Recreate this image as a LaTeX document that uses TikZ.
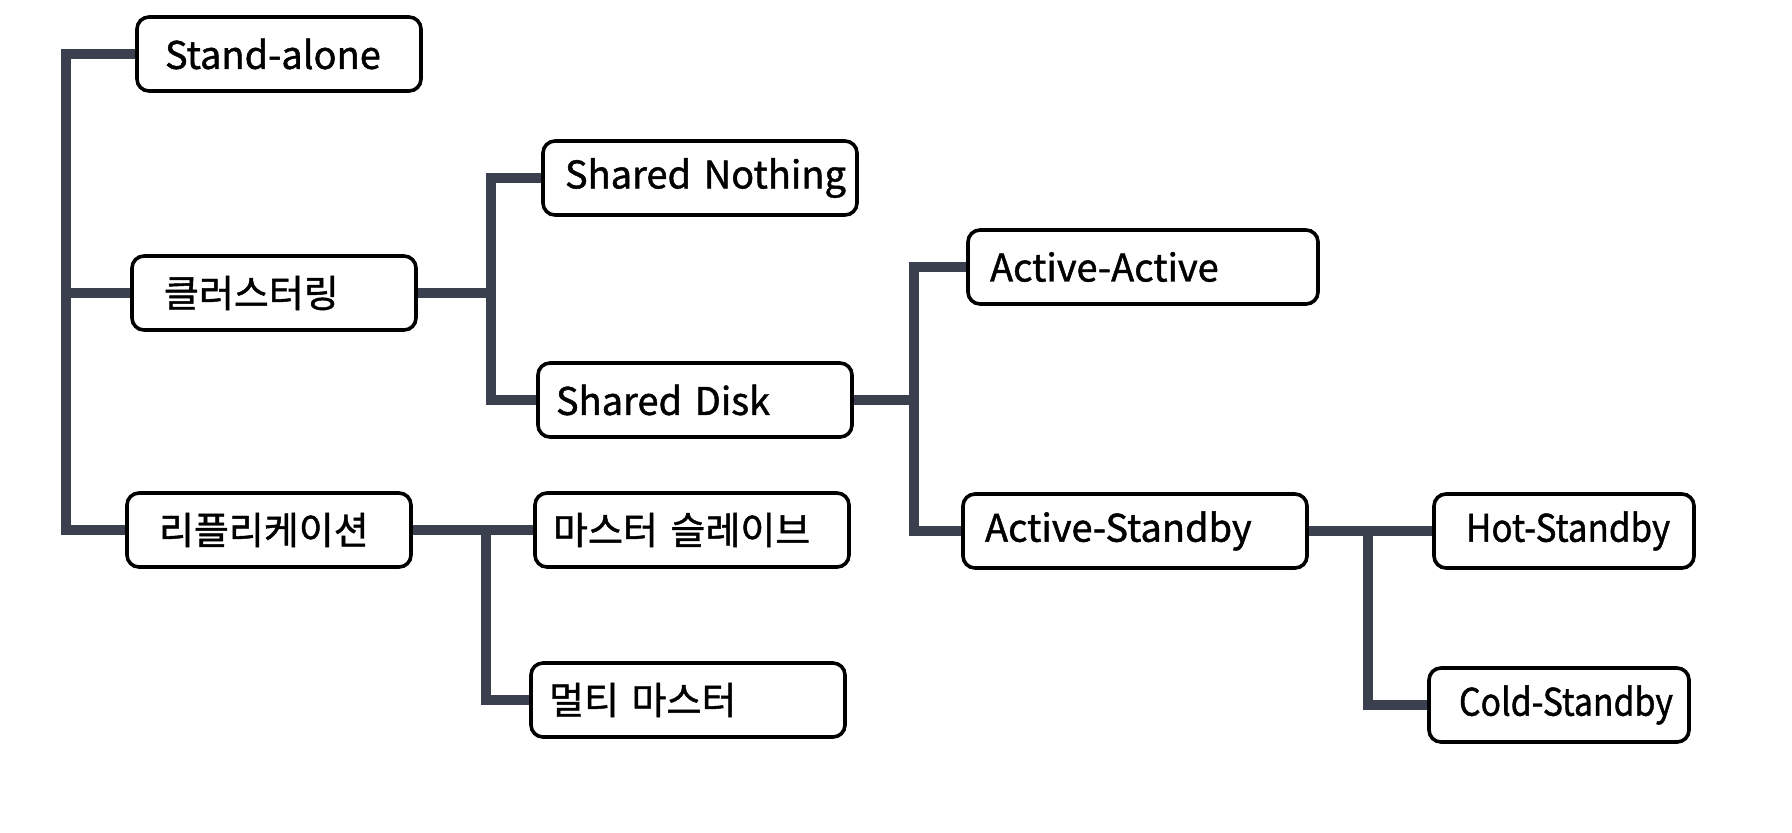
\documentclass[tikz,border=0pt]{standalone}
\usepackage{graphicx}
\usepackage{fontspec}
\setmainfont{Noto Sans CJK KR}[FakeBold=1.2]
\usetikzlibrary{backgrounds}
\definecolor{linkgray}{RGB}{58,64,78}
\newcommand{\boxtext}[2][0pt]{\hspace*{#1}\makebox[0pt][l]{#2}}
\tikzset{
  box/.style={draw, line width=1.8pt, rounded corners=6pt, fill=white,
    minimum height=37pt, inner xsep=9pt, text width=#1, align=left,
    font=\fontsize{19}{22}\selectfont},
  link/.style={draw=linkgray, line width=5pt},
}
\begin{document}
\begin{tikzpicture}[x=0.5pt,y=-0.5pt]
\useasboundingbox (0,0) rectangle (1792,832);

% first level
\node[box=124pt] (sa) at (279,54) {\boxtext[5pt]{Stand-alone}};
\node[box=124pt] (cl) at (274,293) {\boxtext[7pt]{클러스터링}};
\node[box=124pt] (rep) at (269,530) {\boxtext[7pt]{리플리케이션}};

% second level
\node[box=139pt] (sn) at (700,178) {\boxtext[2pt]{Shared Nothing}};
\node[box=139pt] (sd) at (695,400) {\boxtext{Shared Disk}};
\node[box=139pt] (ms) at (692,530) {\boxtext{마스터 슬레이브}};
\node[box=139pt] (mm) at (688,700) {\boxtext{멀티 마스터}};

% third level
\node[box=157pt] (aa) at (1143,267) {\boxtext[2pt]{Active-Active}};
\node[box=154pt] (as) at (1135,531) {\boxtext[2pt]{Active-Standby}};

% fourth level
\node[box=112pt] (hs) at (1564,531) {\boxtext[7pt]{\scalebox{0.92}[1]{Hot-Standby}}};
\node[box=112pt] (cs) at (1559,705) {\boxtext[6pt]{\scalebox{0.89}[1]{Cold-Standby}}};

\coordinate (t1) at (66,293);
\coordinate (t2) at (491,293);
\coordinate (t3) at (486,530);
\coordinate (t4) at (914,400);
\coordinate (t5) at (1368,531);

\begin{scope}[on background layer]
\fill[white] (0,0) rectangle (1792,832);
\draw[link] (sa.west) -| (t1) |- (rep.west);
\draw[link] (cl.west) -- (t1);
\draw[link] (cl.east) -- (t2);
\draw[link] (sn.west) -| (t2) |- (sd.west);
\draw[link] (rep.east) -- (ms.west);
\draw[link] (t3) |- (mm.west);
\draw[link] (sd.east) -- (t4);
\draw[link] (aa.west) -| (t4) |- (as.west);
\draw[link] (as.east) -- (hs.west);
\draw[link] (t5) |- (cs.west);
\end{scope}
\end{tikzpicture}
\end{document}
